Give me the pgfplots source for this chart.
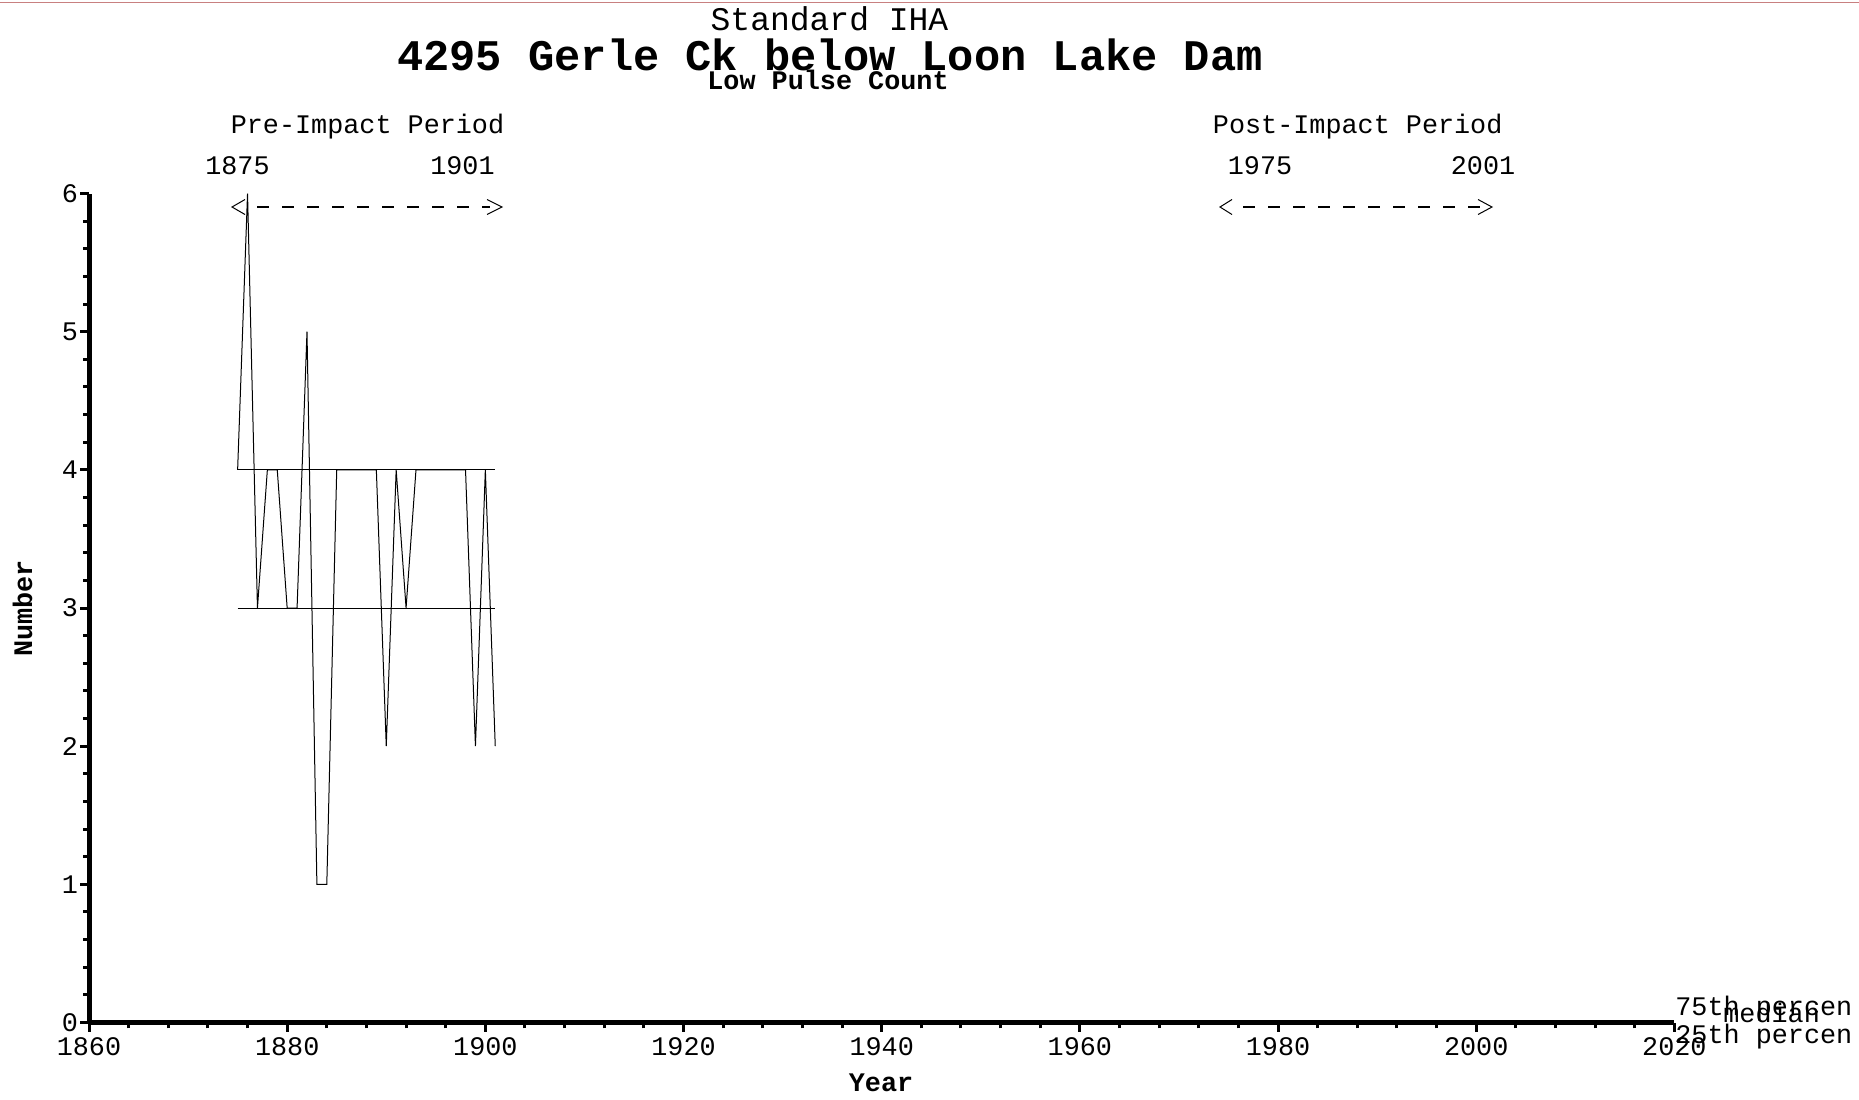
\documentclass[border=0pt]{standalone}
\usepackage{fontspec}
\setmainfont{Liberation Mono}
\usepackage{pgfplots}
\usepackage{pgfplotstable}
\pgfplotsset{compat=1.18}

% Annual low pulse count, pre-impact period
\pgfplotstableread{
year count
1875 4
1876 6
1877 3
1878 4
1879 4
1880 3
1881 3
1882 5
1883 1
1884 1
1885 4
1886 4
1887 4
1888 4
1889 4
1890 2
1891 4
1892 3
1893 4
1894 4
1895 4
1896 4
1897 4
1898 4
1899 2
1900 4
1901 2
}\lowpulse

\newcommand{\lbl}{\fontsize{13.4pt}{16pt}\selectfont}

\begin{document}
\begin{tikzpicture}[font=\lbl]
\path[use as bounding box] (0pt,0pt) rectangle (929.5pt,-549.5pt);
\draw[color={rgb,255:red,200;green,128;blue,128}, line width=0.75pt]
  (0pt,-1.35pt) -- (929.5pt,-1.35pt);

\begin{axis}[
  at={(44.5pt,-511.25pt)}, anchor=south west,
  scale only axis, width=792.7pt, height=414.5pt,
  xmin=1860, xmax=2020, ymin=0, ymax=6,
  axis x line=bottom, axis y line=left,
  axis line style={line width=2.5pt, -},
  xtick={1860,1880,...,2020}, ytick={0,1,...,6},
  minor x tick num=4, minor y tick num=4,
  tick align=outside,
  major tick length=4.5pt, minor tick length=2.9pt,
  every tick/.style={black, line width=1.5pt},
  /pgf/number format/assume math mode=true,
  /pgf/number format/1000 sep={},
  ticklabel style={font=\lbl, inner sep=0pt},
  xticklabel style={anchor=base, yshift=-11.75pt},
  yticklabel style={anchor=east, xshift=-0.8pt},
  xlabel={\textbf{Year}},
  ylabel={\textbf{Number}},
  xlabel style={at={(axis description cs:0.4996,-0.0838)}, anchor=base, inner sep=0pt, font=\lbl},
  ylabel style={at={(axis description cs:-0.03595,0.4994)}, anchor=base, rotate=0, inner sep=0pt, font=\lbl},
  clip=false,
]
\addplot[black, line width=0.5pt, mark=none] table[x=year, y=count] {\lowpulse};
% 75th percentile, median and 25th percentile of the pre-impact period
\addplot[black, line width=0.5pt, mark=none] coordinates {(1875,4) (1901,4)};
\addplot[black, line width=0.5pt, mark=none] coordinates {(1875,4) (1901,4)};
\addplot[black, line width=0.5pt, mark=none] coordinates {(1875,3) (1901,3)};
\end{axis}

% titles
\node[anchor=base, inner sep=0pt, font=\fontsize{16.5pt}{19pt}\selectfont] at (414.75pt,-15.2pt) {Standard IHA};
\node[anchor=base, inner sep=0pt, font=\fontsize{21.85pt}{26pt}\selectfont\bfseries] at (415pt,-35pt) {4295 Gerle Ck below Loon Lake Dam};
\node[anchor=base, inner sep=0pt, font=\lbl\bfseries] at (414pt,-44.6pt) {Low Pulse Count};

% period headers
\node[anchor=base, inner sep=0pt] at (183.75pt,-66.5pt) {Pre-Impact Period};
\node[anchor=base, inner sep=0pt] at (118.75pt,-87pt) {1875};
\node[anchor=base, inner sep=0pt] at (231.25pt,-87pt) {1901};
\node[anchor=base, inner sep=0pt] at (678.85pt,-66.5pt) {Post-Impact Period};
\node[anchor=base, inner sep=0pt] at (630pt,-87pt) {1975};
\node[anchor=base, inner sep=0pt] at (741.5pt,-87pt) {2001};

% period span arrows
\draw[line width=0.5pt] (122.5pt,-99.75pt) -- (116pt,-103.5pt) -- (122.5pt,-107.25pt);
\draw[line width=0.7pt, dash pattern=on 5.85pt off 6.65pt] (128.5pt,-103.5pt) -- (245pt,-103.5pt);
\draw[line width=0.5pt] (243.5pt,-99.75pt) -- (251pt,-103.5pt) -- (243.5pt,-107.25pt);

\draw[line width=0.5pt] (616pt,-99.75pt) -- (610pt,-103.5pt) -- (616pt,-107.25pt);
\draw[line width=0.7pt, dash pattern=on 5.85pt off 6.65pt] (621.5pt,-103.5pt) -- (741pt,-103.5pt);
\draw[line width=0.5pt] (739pt,-99.75pt) -- (746pt,-103.5pt) -- (739pt,-107.25pt);

% percentile legend at the right end of the axis
\node[anchor=base west, inner sep=0pt] at (837.5pt,-507.5pt) {75th percen};
\node[anchor=base west, inner sep=0pt] at (861.5pt,-511pt) {median};
\node[anchor=base west, inner sep=0pt] at (837.5pt,-521.5pt) {25th percen};
\end{tikzpicture}
\end{document}
